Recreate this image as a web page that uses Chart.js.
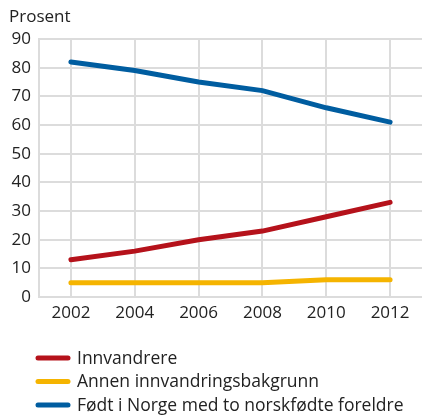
<!DOCTYPE html>
<html>
<head>
<meta charset="utf-8">
<script src="https://cdn.jsdelivr.net/npm/chart.js@4"></script>
<style>
  html, body { margin: 0; padding: 0; background: #fff; }
  #wrap { width: 422px; height: 416px; }
</style>
</head>
<body>
<div id="wrap"><canvas id="chart" width="422" height="416"></canvas></div>
<script>
const years = ["2002", "2004", "2006", "2008", "2010", "2012"];
const innvandrere = [13, 16, 20, 23, 28, 33];
const annenBakgrunn = [5, 5, 5, 5, 6, 6];
const norskfodte = [82, 79, 75, 72, 66, 61];
const yTicks = [0, 10, 20, 30, 40, 50, 60, 70, 80, 90];
const unitLabel = "Prosent";

const FONT = "'Open Sans', sans-serif";

// legend stacked one per row under the axis, plus the unit label top left
const extras = {
  id: "extras",
  afterDraw(chart) {
    const c = chart.ctx;
    c.save();
    c.fillStyle = "#222";
    c.font = "17px " + FONT;
    c.textBaseline = "middle";
    c.textAlign = "left";
    c.fillText(unitLabel, 9, 17);
    c.font = "17.5px " + FONT;
    chart.data.datasets.forEach((ds, i) => {
      const y = 358 + i * 23.5;
      c.strokeStyle = ds.borderColor;
      c.lineWidth = 5;
      c.lineCap = "round";
      c.beginPath();
      c.moveTo(38, y);
      c.lineTo(68, y);
      c.stroke();
      c.fillText(ds.label, 77, y + 1);
    });
    c.restore();
  }
};

new Chart(document.getElementById("chart"), {
  type: "line",
  data: {
    labels: years,
    datasets: [
      { label: "Innvandrere", data: innvandrere, borderColor: "#b5121b" },
      { label: "Annen innvandringsbakgrunn", data: annenBakgrunn, borderColor: "#f5b400" },
      { label: "Født i Norge med to norskfødte foreldre", data: norskfodte, borderColor: "#005da0" }
    ]
  },
  options: {
    responsive: false,
    animation: false,
    layout: { padding: { top: 39, bottom: 89, right: 0, left: 0 } },
    elements: {
      line: { borderWidth: 5, tension: 0, borderCapStyle: "round" },
      point: { radius: 0 }
    },
    plugins: { legend: { display: false }, tooltip: { enabled: false } },
    scales: {
      x: {
        offset: true,
        grid: { offset: false, color: "#dcdcdc", lineWidth: 2, drawTicks: false },
        border: { color: "#dcdcdc", width: 2 },
        ticks: { color: "#222", font: { family: FONT, size: 17 }, padding: 6, maxRotation: 0 },
        afterFit(s) { s.height = 30; }
      },
      y: {
        min: 0, max: 90,
        afterBuildTicks(s) { s.ticks = yTicks.map(v => ({ value: v })); },
        grid: { color: "#dcdcdc", lineWidth: 2, drawTicks: false },
        border: { color: "#dcdcdc", width: 2 },
        ticks: { color: "#222", font: { family: FONT, size: 17 }, padding: 8 },
        afterFit(s) { s.width = 39; }
      }
    }
  },
  plugins: [extras]
});
</script>
</body>
</html>
